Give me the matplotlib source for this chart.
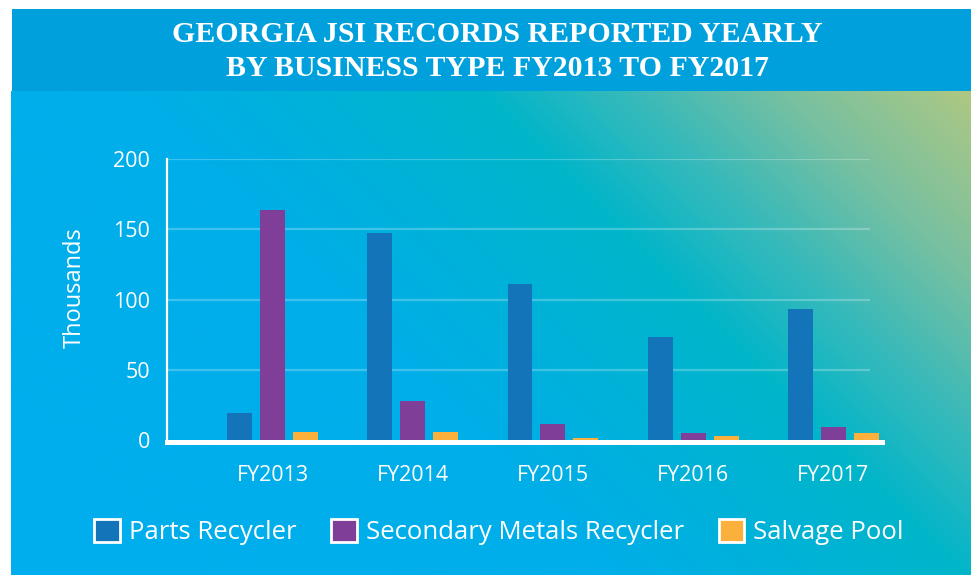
import numpy as np
import matplotlib
matplotlib.use("Agg")
import matplotlib.pyplot as plt
from matplotlib.patches import Patch, Rectangle
from matplotlib.colors import LinearSegmentedColormap

years = ["FY2013", "FY2014", "FY2015", "FY2016", "FY2017"]
parts = [19, 147, 111, 73, 93]
secondary = [164, 28, 11.5, 5, 9]
salvage = [6, 6, 1.5, 3, 5]
series_names = ["Parts Recycler", "Secondary Metals Recycler", "Salvage Pool"]
colors = ["#1474BA", "#7F3F98", "#FBB03B"]
yticks = [0, 50, 100, 150, 200]

W, H = 971, 575
fig = plt.figure(figsize=(W / 100, H / 100), dpi=100)
fig.patch.set_facecolor("white")
font = "Open Sans"

# background panel with diagonal gradient
bg = fig.add_axes([0, 0, 1, 1], zorder=-10)
bg.axis("off")
xx, yy = np.meshgrid(np.arange(11, W + 1), np.arange(91, H + 1))
s = (xx + (H - yy)) / 1455.0
cmap = LinearSegmentedColormap.from_list("panel", [
    (0.0, (0 / 255, 174 / 255, 239 / 255)),
    (0.42, (0 / 255, 174 / 255, 233 / 255)),
    (0.66, (0 / 255, 181 / 255, 202 / 255)),
    (0.77, (60 / 255, 186 / 255, 185 / 255)),
    (0.87, (120 / 255, 192 / 255, 160 / 255)),
    (1.0, (175 / 255, 200 / 255, 130 / 255)),
])
bg.imshow(s, cmap=cmap, vmin=0, vmax=1, extent=[11, W + 5, H + 5, 91], aspect="auto",
          interpolation="bilinear")
bg.set_xlim(0, W)
bg.set_ylim(H, 0)
bg.add_patch(Rectangle((12, 9), W - 12, 82, color="#00A0DC", lw=0))
bg.text(497, 35, "GEORGIA JSI RECORDS REPORTED YEARLY", color="white",
        family="Liberation Serif", weight="bold", fontsize=21.5,
        ha="center", va="center")
bg.text(497, 68, "BY BUSINESS TYPE FY2013 TO FY2017", color="white",
        family="Liberation Serif", weight="bold", fontsize=21.5,
        ha="center", va="center")

# main chart
ax = fig.add_axes([167 / W, 135 / H, 715 / W, 281 / H])
ax.patch.set_alpha(0)
x = np.arange(len(years))
w = 0.178
off = 0.235
ax.bar(x - off, parts, w, color=colors[0], zorder=3)
ax.bar(x, secondary, w, color=colors[1], zorder=3)
ax.bar(x + off, salvage, w, color=colors[2], zorder=3)

ax.set_xlim(-0.752, 4.346)
ax.set_ylim(0, 200)
ax.hlines(yticks[1:], -0.752, 4.26, color="white", alpha=0.25, lw=1.6, zorder=1)
ax.axhline(-1.7, color="white", lw=3.6, zorder=4, clip_on=False)

for side in ["top", "right", "bottom"]:
    ax.spines[side].set_visible(False)
ax.spines["left"].set_color("white")
ax.spines["left"].set_linewidth(1.6)

ax.set_yticks(yticks)
ax.set_yticklabels([str(v) for v in yticks], color="white", fontsize=15.5, family=font)
ax.set_xticks(x)
ax.set_xticklabels(years, color="white", fontsize=15.5, family=font)
ax.tick_params(length=0)
ax.tick_params(axis="y", pad=12)
ax.tick_params(axis="x", pad=18)
ax.set_ylabel("Thousands", color="white", fontsize=17, family=font)
ax.yaxis.set_label_coords(-0.112, 0.544)

handles = [Patch(facecolor=c, edgecolor="white", linewidth=2) for c in colors]
leg = fig.legend(handles, series_names, loc="center", bbox_to_anchor=(499 / W, 1 - 532 / H),
                 ncol=3, frameon=False, handlelength=1.0, handleheight=1.0,
                 handletextpad=0.35, columnspacing=1.35,
                 prop={"family": font, "size": 18.5})
for t in leg.get_texts():
    t.set_color("white")

fig.savefig("out.png", dpi=100)
